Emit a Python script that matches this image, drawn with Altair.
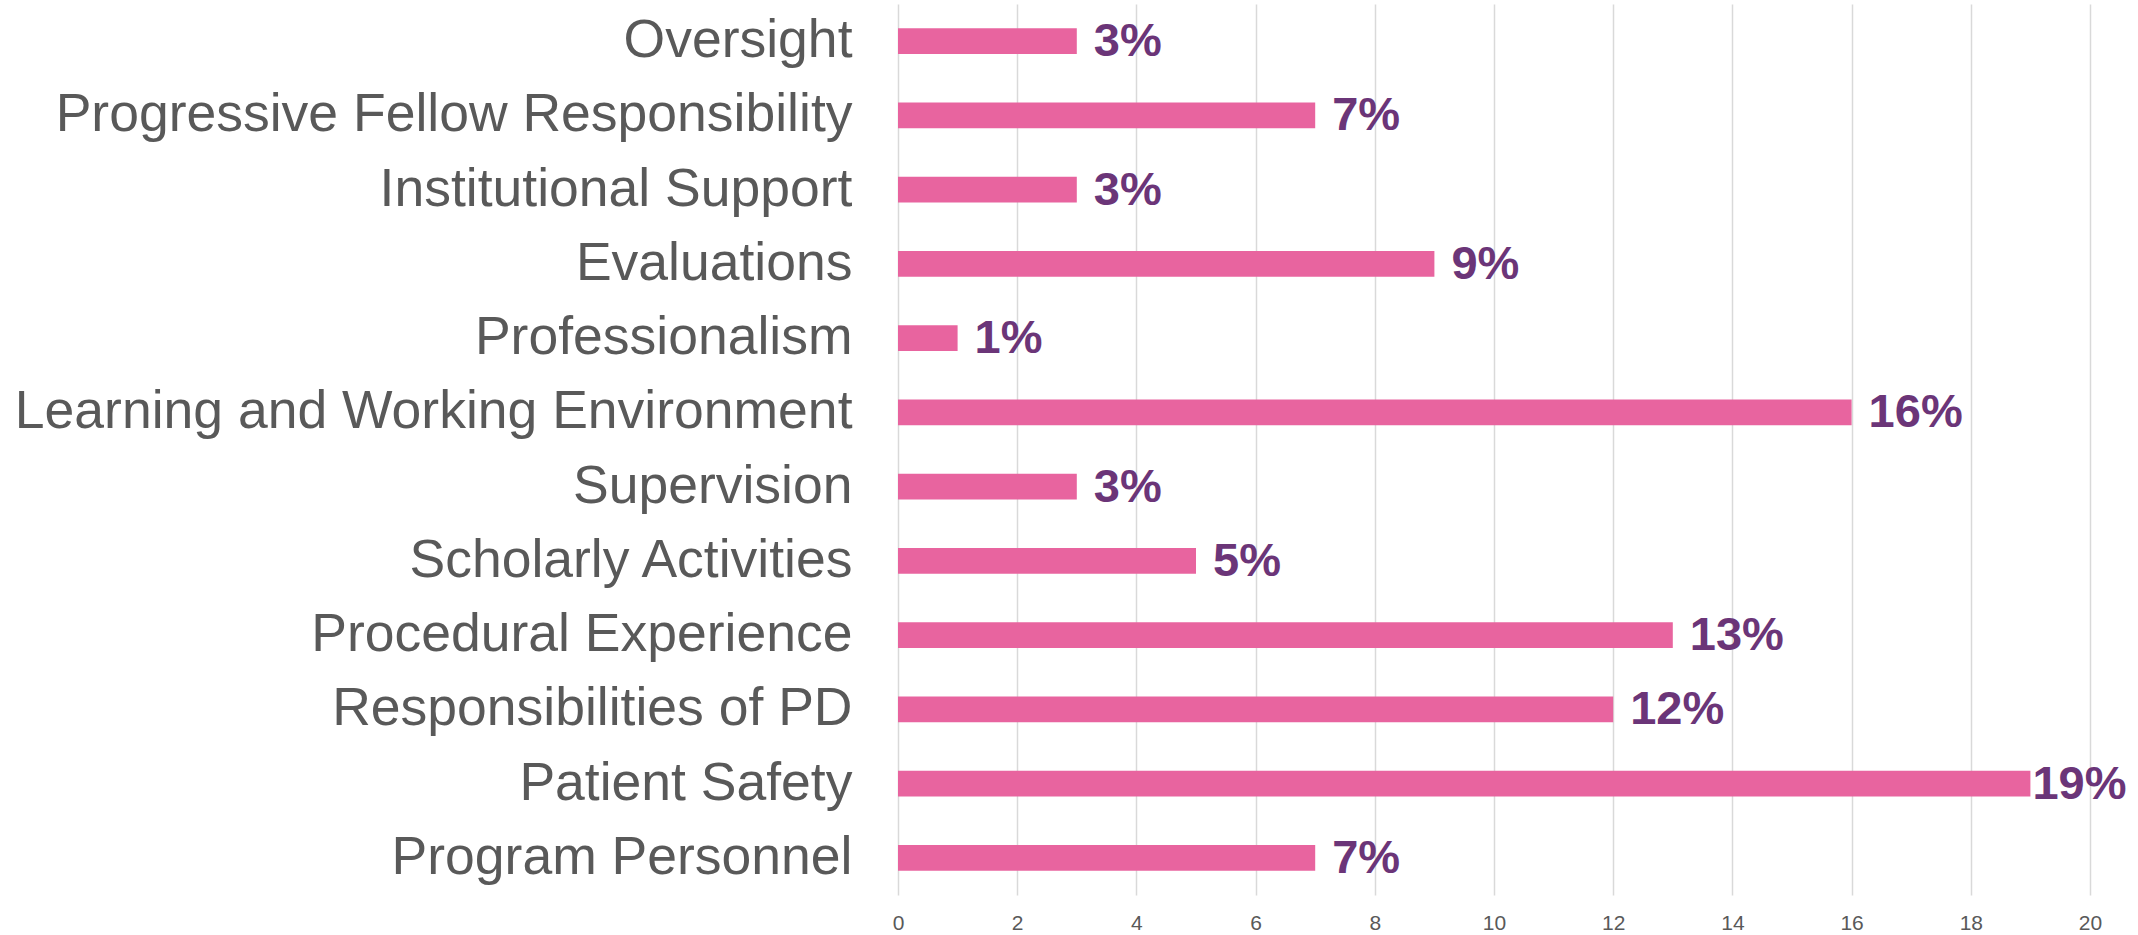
import altair as alt
import pandas as pd

categories = [
    "Oversight",
    "Progressive Fellow Responsibility",
    "Institutional Support",
    "Evaluations",
    "Professionalism",
    "Learning and Working Environment",
    "Supervision",
    "Scholarly Activities",
    "Procedural Experience",
    "Responsibilities of PD",
    "Patient Safety",
    "Program Personnel",
]
values = [3, 7, 3, 9, 1, 16, 3, 5, 13, 12, 19, 7]
labels = ["3%", "7%", "3%", "9%", "1%", "16%", "3%", "5%", "13%", "12%", "19%", "7%"]
x_ticks = [0, 2, 4, 6, 8, 10, 12, 14, 16, 18, 20]

df = pd.DataFrame({"category": categories, "value": values, "label": labels})

FONT = "Liberation Sans"

y_enc = alt.Y(
    "category:N",
    sort=categories,
    title=None,
    scale=alt.Scale(paddingInner=0.65, paddingOuter=0.325),
    axis=alt.Axis(
        labelFontSize=53.5,
        labelColor="#595959",
        labelFont=FONT,
        labelPadding=46,
        labelLimit=2000,
        ticks=False,
        domain=False,
        grid=False,
    ),
)
x_enc = alt.X(
    "value:Q",
    title=None,
    scale=alt.Scale(domain=[0, 20], nice=False),
    axis=alt.Axis(
        values=x_ticks,
        format="d",
        labelFontSize=21,
        labelColor="#595959",
        labelFont=FONT,
        labelPadding=17,
        labelFlush=False,
        ticks=False,
        domain=False,
        grid=True,
        gridColor="#D9D9D9",
        gridWidth=1.5,
    ),
)

base = alt.Chart(df)

bars = base.mark_bar(color="#E8649F").encode(x=x_enc, y=y_enc)

text_main = (
    base.transform_filter("datum.value < 19")
    .mark_text(
        align="left",
        baseline="middle",
        dx=17,
        dy=1,
        fontSize=47,
        fontWeight="bold",
        font=FONT,
        color="#6B3578",
    )
    .encode(x="value:Q", y=alt.Y("category:N", sort=categories), text="label:N")
)
text_edge = (
    base.transform_filter("datum.value >= 19")
    .mark_text(
        align="left",
        baseline="middle",
        dx=2,
        dy=1,
        fontSize=47,
        fontWeight="bold",
        font=FONT,
        color="#6B3578",
    )
    .encode(x="value:Q", y=alt.Y("category:N", sort=categories), text="label:N")
)

chart = (
    alt.layer(bars, text_main, text_edge)
    .properties(
        width=1192,
        height=891,
        autosize=alt.AutoSizeParams(type="none"),
        padding={"left": 898, "top": 4, "right": 48, "bottom": 40},
        background="white",
    )
    .configure_view(stroke=None)
)

chart.save("out.html", embed_options={"renderer": "svg", "actions": False})
